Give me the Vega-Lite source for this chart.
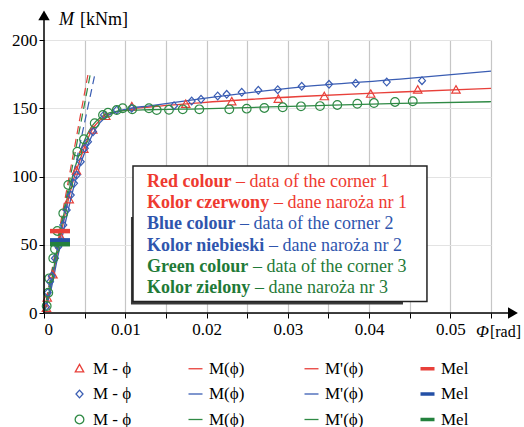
{
  "$schema": "https://vega.github.io/schema/vega-lite/v6.json",
  "width": 447,
  "height": 273,
  "autosize": {"type": "none"},
  "padding": {"left": 44, "top": 40, "right": 33, "bottom": 114},
  "background": "white",
  "config": {
    "view": {"stroke": null},
    "font": "Liberation Serif",
    "axis": {"labelFont": "Liberation Serif", "labelFontSize": 17, "labelColor": "black", "tickColor": "black", "tickSize": 5, "domain": false, "title": null},
    "legend": {"labelFont": "Liberation Serif", "labelFontSize": 17, "labelColor": "black"}
  },
  "datasets": {
    "fits": [
      {"k":"r|M(ϕ)","phi":0,"M":0},{"k":"r|M(ϕ)","phi":0.00074,"M":16.8},{"k":"r|M(ϕ)","phi":0.00172,"M":46.2},{"k":"r|M(ϕ)","phi":0.00271,"M":75.5},{"k":"r|M(ϕ)","phi":0.00369,"M":98.9},{"k":"r|M(ϕ)","phi":0.00443,"M":112.1},{"k":"r|M(ϕ)","phi":0.00517,"M":124.5},{"k":"r|M(ϕ)","phi":0.00591,"M":134.1},{"k":"r|M(ϕ)","phi":0.00689,"M":141.4},{"k":"r|M(ϕ)","phi":0.00812,"M":145.8},{"k":"r|M(ϕ)","phi":0.00997,"M":148.7},{"k":"r|M(ϕ)","phi":0.013,"M":150.9},{"k":"r|M(ϕ)","phi":0.0192,"M":154.0},{"k":"r|M(ϕ)","phi":0.0315,"M":158.6},{"k":"r|M(ϕ)","phi":0.0438,"M":161.9},{"k":"r|M(ϕ)","phi":0.055,"M":164.6},
      {"k":"b|M(ϕ)","phi":0,"M":0},{"k":"b|M(ϕ)","phi":0.00074,"M":14},{"k":"b|M(ϕ)","phi":0.00172,"M":42},{"k":"b|M(ϕ)","phi":0.00271,"M":68.5},{"k":"b|M(ϕ)","phi":0.00369,"M":93},{"k":"b|M(ϕ)","phi":0.00443,"M":108},{"k":"b|M(ϕ)","phi":0.00517,"M":120},{"k":"b|M(ϕ)","phi":0.00591,"M":130},{"k":"b|M(ϕ)","phi":0.00689,"M":139.5},{"k":"b|M(ϕ)","phi":0.00812,"M":145.5},{"k":"b|M(ϕ)","phi":0.01,"M":149.2},{"k":"b|M(ϕ)","phi":0.013,"M":151.8},{"k":"b|M(ϕ)","phi":0.0192,"M":156.8},{"k":"b|M(ϕ)","phi":0.0315,"M":165.5},{"k":"b|M(ϕ)","phi":0.0438,"M":171.3},{"k":"b|M(ϕ)","phi":0.055,"M":177.2},
      {"k":"g|M(ϕ)","phi":0,"M":0},{"k":"g|M(ϕ)","phi":0.00074,"M":18},{"k":"g|M(ϕ)","phi":0.00172,"M":50},{"k":"g|M(ϕ)","phi":0.00271,"M":80},{"k":"g|M(ϕ)","phi":0.00369,"M":104},{"k":"g|M(ϕ)","phi":0.00443,"M":118},{"k":"g|M(ϕ)","phi":0.00517,"M":129},{"k":"g|M(ϕ)","phi":0.00591,"M":137},{"k":"g|M(ϕ)","phi":0.00689,"M":143},{"k":"g|M(ϕ)","phi":0.00812,"M":146.8},{"k":"g|M(ϕ)","phi":0.01,"M":148.3},{"k":"g|M(ϕ)","phi":0.013,"M":148.9},{"k":"g|M(ϕ)","phi":0.0192,"M":149.6},{"k":"g|M(ϕ)","phi":0.0315,"M":151.6},{"k":"g|M(ϕ)","phi":0.0438,"M":153.6},{"k":"g|M(ϕ)","phi":0.055,"M":154.8}
    ],
    "tang": [
      {"k":"r|M'(ϕ)","phi":0,"M":0},{"k":"r|M'(ϕ)","phi":0.00545,"M":176},
      {"k":"b|M'(ϕ)","phi":0,"M":0},{"k":"b|M'(ϕ)","phi":0.0063,"M":176},
      {"k":"g|M'(ϕ)","phi":0,"M":0},{"k":"g|M'(ϕ)","phi":0.00573,"M":176}
    ],
    "pts": [
      {"k":"r|M - ϕ","phi":0.0003,"M":3.4},{"k":"r|M - ϕ","phi":0.0004,"M":11},{"k":"r|M - ϕ","phi":0.0011,"M":28},{"k":"r|M - ϕ","phi":0.0021,"M":55},{"k":"r|M - ϕ","phi":0.0031,"M":83},{"k":"r|M - ϕ","phi":0.0040,"M":104},{"k":"r|M - ϕ","phi":0.0049,"M":120},{"k":"r|M - ϕ","phi":0.0060,"M":134},{"k":"r|M - ϕ","phi":0.0076,"M":144},{"k":"r|M - ϕ","phi":0.0108,"M":151.1},{"k":"r|M - ϕ","phi":0.01744,"M":152.9},{"k":"r|M - ϕ","phi":0.0231,"M":154.8},{"k":"r|M - ϕ","phi":0.02883,"M":156.6},{"k":"r|M - ϕ","phi":0.03449,"M":158.5},{"k":"r|M - ϕ","phi":0.0402,"M":160.3},{"k":"r|M - ϕ","phi":0.04598,"M":163.4},{"k":"r|M - ϕ","phi":0.05069,"M":163.4},
      {"k":"b|M - ϕ","phi":0.00025,"M":4.6},{"k":"b|M - ϕ","phi":0.00046,"M":14.9},{"k":"b|M - ϕ","phi":0.00074,"M":22.9},{"k":"b|M - ϕ","phi":0.00095,"M":27.1},{"k":"b|M - ϕ","phi":0.00135,"M":40.1},{"k":"b|M - ϕ","phi":0.00176,"M":48.6},{"k":"b|M - ϕ","phi":0.00237,"M":64.5},{"k":"b|M - ϕ","phi":0.00279,"M":75.5},{"k":"b|M - ϕ","phi":0.00329,"M":86.4},{"k":"b|M - ϕ","phi":0.00369,"M":95.0},{"k":"b|M - ϕ","phi":0.00402,"M":101.1},{"k":"b|M - ϕ","phi":0.00452,"M":110.8},{"k":"b|M - ϕ","phi":0.00501,"M":120.7},{"k":"b|M - ϕ","phi":0.00541,"M":125.5},{"k":"b|M - ϕ","phi":0.00603,"M":132.8},{"k":"b|M - ϕ","phi":0.00738,"M":145.1},{"k":"b|M - ϕ","phi":0.00895,"M":148.7},{"k":"b|M - ϕ","phi":0.01079,"M":150.0},{"k":"b|M - ϕ","phi":0.016,"M":151.9},{"k":"b|M - ϕ","phi":0.01817,"M":155.3},{"k":"b|M - ϕ","phi":0.01932,"M":156.6},{"k":"b|M - ϕ","phi":0.02137,"M":159.0},{"k":"b|M - ϕ","phi":0.02248,"M":160.2},{"k":"b|M - ϕ","phi":0.02433,"M":161.7},{"k":"b|M - ϕ","phi":0.02637,"M":163.2},{"k":"b|M - ϕ","phi":0.02876,"M":163.6},{"k":"b|M - ϕ","phi":0.03171,"M":166.1},{"k":"b|M - ϕ","phi":0.03507,"M":167.5},{"k":"b|M - ϕ","phi":0.03835,"M":168.3},{"k":"b|M - ϕ","phi":0.04217,"M":169.2},{"k":"b|M - ϕ","phi":0.04651,"M":170.2},
      {"k":"g|M - ϕ","phi":0.00033,"M":5.1},{"k":"g|M - ϕ","phi":0.00053,"M":14.9},{"k":"g|M - ϕ","phi":0.00065,"M":25.4},{"k":"g|M - ϕ","phi":0.00114,"M":40.1},{"k":"g|M - ϕ","phi":0.00135,"M":46.9},{"k":"g|M - ϕ","phi":0.00164,"M":60.1},{"k":"g|M - ϕ","phi":0.00237,"M":73.0},{"k":"g|M - ϕ","phi":0.00299,"M":93.8},{"k":"g|M - ϕ","phi":0.0041,"M":118.2},{"k":"g|M - ϕ","phi":0.00492,"M":127.3},{"k":"g|M - ϕ","phi":0.00624,"M":139.0},{"k":"g|M - ϕ","phi":0.00726,"M":145.1},{"k":"g|M - ϕ","phi":0.00787,"M":146.7},{"k":"g|M - ϕ","phi":0.00895,"M":148.7},{"k":"g|M - ϕ","phi":0.00968,"M":150.0},{"k":"g|M - ϕ","phi":0.01086,"M":149.2},{"k":"g|M - ϕ","phi":0.01292,"M":150.0},{"k":"g|M - ϕ","phi":0.01387,"M":148.7},{"k":"g|M - ϕ","phi":0.01538,"M":148.9},{"k":"g|M - ϕ","phi":0.01707,"M":149.2},{"k":"g|M - ϕ","phi":0.01911,"M":149.2},{"k":"g|M - ϕ","phi":0.0228,"M":149.2},{"k":"g|M - ϕ","phi":0.02494,"M":149.7},{"k":"g|M - ϕ","phi":0.02711,"M":150.2},{"k":"g|M - ϕ","phi":0.02937,"M":150.7},{"k":"g|M - ϕ","phi":0.03162,"M":151.4},{"k":"g|M - ϕ","phi":0.03396,"M":151.6},{"k":"g|M - ϕ","phi":0.03609,"M":152.4},{"k":"g|M - ϕ","phi":0.03855,"M":153.3},{"k":"g|M - ϕ","phi":0.0406,"M":153.8},{"k":"g|M - ϕ","phi":0.04319,"M":154.6},{"k":"g|M - ϕ","phi":0.04537,"M":155.1}
    ],
    "mel": [
      {"k":"r|Mel","phi":0.00074,"phi2":0.0032,"M":60},
      {"k":"b|Mel","phi":0.00074,"phi2":0.0032,"M":53.2},
      {"k":"g|Mel","phi":0.00074,"phi2":0.0032,"M":50.4}
    ],
    "boxes": [
      {"part":"shadow","phi":0.0107,"phi2":0.04417,"M":6.2,"M2":70.3},
      {"part":"box","phi":0.01095,"phi2":0.04712,"M":8.4,"M2":107.7}
    ],
    "note": [
      {"g":"r","a":"Red colour","b":"– data of the corner 1","phi":0.012673,"phi2":0.023624,"M":92.3},
      {"g":"r","a":"Kolor czerwony","b":"– dane naroża nr 1","phi":0.012673,"phi2":0.0283,"M":76.75},
      {"g":"b","a":"Blue colour","b":"– data of the corner 2","phi":0.012673,"phi2":0.024116,"M":61.2},
      {"g":"b","a":"Kolor niebieski","b":"– dane naroża nr 2","phi":0.012673,"phi2":0.027685,"M":45.65},
      {"g":"g","a":"Green colour","b":"– data of the corner 3","phi":0.012673,"phi2":0.025716,"M":30.1},
      {"g":"g","a":"Kolor zielony","b":"– dane naroża nr 3","phi":0.012673,"phi2":0.025962,"M":14.55}
    ],
    "axl": [
      {"phi":0,"phi2":0,"M":0,"M2":218},
      {"phi":0,"phi2":0.0577,"M":0,"M2":0}
    ],
    "ttl": [
      {"it":"M","rg":"[kNm]","phi":0.00185,"phi2":0.00443,"M":211}
    ],
    "ttlx": [
      {"it":"Φ","rg":"[rad]","phi":0.05316,"phi2":0.05487,"M":-17.6}
    ]
  },
  "layer": [
    {
      "data": {"name": "fits"},
      "mark": {"type": "line", "strokeWidth": 1.3, "interpolate": "monotone"},
      "encoding": {
        "x": {"field": "phi", "type": "quantitative", "scale": {"domain": [0, 0.055], "nice": false, "zero": false},
          "axis": {"values": [0,0.005,0.01,0.015,0.02,0.025,0.03,0.035,0.04,0.045,0.05,0.055], "gridColor": "#c6c6c6", "gridWidth": 1.2, "labelPadding": 3, "labelFont": "Liberation Serif", "labelFontSize": 17,
            "labelExpr": "(round(datum.value*1000) % 10 == 0 && datum.value < 0.054) ? (datum.value == 0 ? '0' : format(datum.value, '.2f')) : ''"}},
        "y": {"field": "M", "type": "quantitative", "scale": {"domain": [0, 200], "nice": false},
          "axis": {"values": [0,25,50,75,100,125,150,175,200], "gridColor": "#e3e3e3", "labelPadding": 2, "labelFont": "Liberation Serif", "labelFontSize": 17}},
        "color": {"field": "k", "type": "nominal",
          "scale": {"domain": ["r|M - ϕ","b|M - ϕ","g|M - ϕ","r|M(ϕ)","b|M(ϕ)","g|M(ϕ)","r|M'(ϕ)","b|M'(ϕ)","g|M'(ϕ)","r|Mel","b|Mel","g|Mel"],
            "range": ["#e8403a","#3a5db3","#2f8a45","#e8403a","#3a5db3","#2f8a45","#e8403a","#3a5db3","#2f8a45","#e8403a","#2450a6","#23813d"]},
          "legend": {"title": null, "orient": "none", "legendX": 27, "legendY": 320, "columns": 4, "columnPadding": 53, "rowPadding": 7.5, "gridAlign": "all", "symbolSize": 196, "symbolStrokeWidth": 1.3, "symbolOpacity": 1, "labelOffset": 5, "padding": 0,
            "labelFont": "Liberation Serif", "labelFontSize": 17,
            "labelExpr": "split(datum.label, '|')[1]"}
        }
      }
    },
    {
      "data": {"name": "tang"},
      "mark": {"type": "line", "strokeWidth": 1.2, "strokeDash": [8, 5]},
      "encoding": {
        "x": {"field": "phi", "type": "quantitative"},
        "y": {"field": "M", "type": "quantitative"},
        "color": {"field": "k", "type": "nominal"}
      }
    },
    {
      "data": {"name": "pts"},
      "mark": {"type": "point", "filled": false, "size": 196, "strokeWidth": 1.2, "opacity": 1},
      "encoding": {
        "x": {"field": "phi", "type": "quantitative"},
        "y": {"field": "M", "type": "quantitative"},
        "color": {"field": "k", "type": "nominal"},
        "shape": {"field": "k", "type": "nominal",
          "scale": {"domain": ["r|M - ϕ","b|M - ϕ","g|M - ϕ","r|M(ϕ)","b|M(ϕ)","g|M(ϕ)","r|M'(ϕ)","b|M'(ϕ)","g|M'(ϕ)","r|Mel","b|Mel","g|Mel"],
            "range": ["M0,-0.62L0.6,0.44L-0.6,0.44Z","M0,-0.55L0.5,0L0,0.55L-0.5,0Z","M0.62,0A0.62,0.62,0,1,1,-0.62,0A0.62,0.62,0,1,1,0.62,0Z","M-1,0L1,0","M-1,0L1,0","M-1,0L1,0","M-1,0L1,0","M-1,0L1,0","M-1,0L1,0","M-1,-0.16L1,-0.16M-1,-0.05L1,-0.05M-1,0.05L1,0.05M-1,0.16L1,0.16","M-1,-0.16L1,-0.16M-1,-0.05L1,-0.05M-1,0.05L1,0.05M-1,0.16L1,0.16","M-1,-0.16L1,-0.16M-1,-0.05L1,-0.05M-1,0.05L1,0.05M-1,0.16L1,0.16"]},
          "legend": {"title": null}}
      }
    },
    {
      "data": {"name": "mel"},
      "mark": {"type": "rule", "strokeWidth": 4.5},
      "encoding": {
        "x": {"field": "phi", "type": "quantitative"},
        "x2": {"field": "phi2"},
        "y": {"field": "M", "type": "quantitative"},
        "color": {"field": "k", "type": "nominal"}
      }
    },
    {
      "data": {"name": "boxes"},
      "transform": [{"filter": "datum.part == 'shadow'"}],
      "mark": {"type": "rect", "fill": "#3a3a3a"},
      "encoding": {
        "x": {"field": "phi", "type": "quantitative"},
        "x2": {"field": "phi2"},
        "y": {"field": "M", "type": "quantitative"},
        "y2": {"field": "M2"}
      }
    },
    {
      "data": {"name": "boxes"},
      "transform": [{"filter": "datum.part == 'box'"}],
      "mark": {"type": "rect", "fill": "white", "stroke": "#222222", "strokeWidth": 1.5},
      "encoding": {
        "x": {"field": "phi", "type": "quantitative"},
        "x2": {"field": "phi2"},
        "y": {"field": "M", "type": "quantitative"},
        "y2": {"field": "M2"}
      }
    },
    {
      "data": {"name": "note"},
      "mark": {"type": "text", "align": "left", "baseline": "alphabetic", "fontSize": 18, "fontWeight": "bold", "font": "Liberation Serif"},
      "encoding": {
        "x": {"field": "phi", "type": "quantitative"},
        "y": {"field": "M", "type": "quantitative"},
        "text": {"field": "a"},
        "color": {"condition": [{"test": "datum.g == 'r'", "value": "#ee3a30"}, {"test": "datum.g == 'b'", "value": "#2f55ad"}], "value": "#1f7a38"}
      }
    },
    {
      "data": {"name": "note"},
      "mark": {"type": "text", "align": "left", "baseline": "alphabetic", "fontSize": 18, "font": "Liberation Serif"},
      "encoding": {
        "x": {"field": "phi2", "type": "quantitative"},
        "y": {"field": "M", "type": "quantitative"},
        "text": {"field": "b"},
        "color": {"condition": [{"test": "datum.g == 'r'", "value": "#ee3a30"}, {"test": "datum.g == 'b'", "value": "#2f55ad"}], "value": "#1f7a38"}
      }
    },
    {
      "data": {"name": "axl"},
      "mark": {"type": "rule", "color": "black", "strokeWidth": 1.5},
      "encoding": {
        "x": {"field": "phi", "type": "quantitative"},
        "x2": {"field": "phi2"},
        "y": {"field": "M", "type": "quantitative"},
        "y2": {"field": "M2"}
      }
    },
    {
      "data": {"name": "axl"},
      "transform": [{"filter": "datum.M2 > 100"}],
      "mark": {"type": "point", "shape": "triangle-up", "filled": true, "color": "black", "size": 130, "opacity": 1},
      "encoding": {
        "x": {"field": "phi", "type": "quantitative"},
        "y": {"field": "M2", "type": "quantitative"}
      }
    },
    {
      "data": {"name": "axl"},
      "transform": [{"filter": "datum.phi2 > 0.01"}],
      "mark": {"type": "point", "shape": "triangle-right", "filled": true, "color": "black", "size": 130, "opacity": 1},
      "encoding": {
        "x": {"field": "phi2", "type": "quantitative"},
        "y": {"field": "M", "type": "quantitative"}
      }
    },
    {
      "data": {"name": "ttl"},
      "mark": {"type": "text", "align": "left", "baseline": "alphabetic", "fontSize": 18, "fontStyle": "italic", "font": "Liberation Serif", "color": "black"},
      "encoding": {
        "x": {"field": "phi", "type": "quantitative"},
        "y": {"field": "M", "type": "quantitative"},
        "text": {"field": "it"}
      }
    },
    {
      "data": {"name": "ttl"},
      "mark": {"type": "text", "align": "left", "baseline": "alphabetic", "fontSize": 18, "font": "Liberation Serif", "color": "black"},
      "encoding": {
        "x": {"field": "phi2", "type": "quantitative"},
        "y": {"field": "M", "type": "quantitative"},
        "text": {"field": "rg"}
      }
    },
    {
      "data": {"name": "ttlx"},
      "mark": {"type": "text", "align": "left", "baseline": "alphabetic", "fontSize": 17, "fontStyle": "italic", "font": "Liberation Serif", "color": "black"},
      "encoding": {
        "x": {"field": "phi", "type": "quantitative"},
        "y": {"field": "M", "type": "quantitative"},
        "text": {"field": "it"}
      }
    },
    {
      "data": {"name": "ttlx"},
      "mark": {"type": "text", "align": "left", "baseline": "alphabetic", "fontSize": 16, "font": "Liberation Serif", "color": "black"},
      "encoding": {
        "x": {"field": "phi2", "type": "quantitative"},
        "y": {"field": "M", "type": "quantitative"},
        "text": {"field": "rg"}
      }
    }
  ]
}
